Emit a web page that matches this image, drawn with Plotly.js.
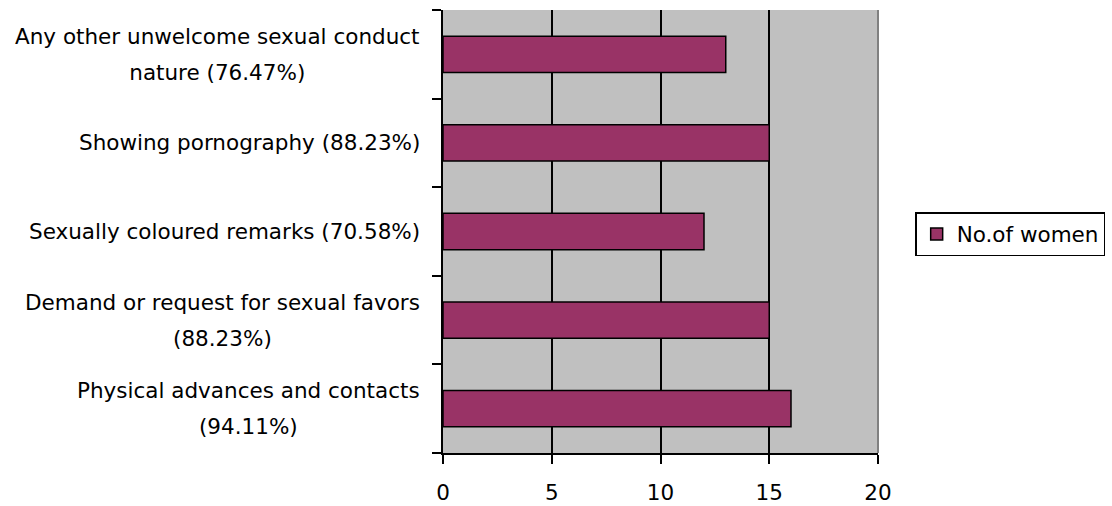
<!DOCTYPE html>
<html>
<head>
<meta charset="utf-8">
<script src="https://cdn.plot.ly/plotly-3.0.1.min.js"></script>
<style>html,body{margin:0;padding:0;background:#fff;}#chart{width:1112px;height:506px;}</style>
</head>
<body>
<div id="chart"></div>
<script>
// Categories listed bottom-to-top, each label split into its lines
const categories = [
  "Physical advances and contacts (94.11%)",
  "Demand or request for sexual favors (88.23%)",
  "Sexually coloured remarks (70.58%)",
  "Showing pornography (88.23%)",
  "Any other unwelcome sexual conduct nature (76.47%)"
];
const labelLines = [
  ["Physical advances and contacts", "(94.11%)"],
  ["Demand or request for sexual favors", "(88.23%)"],
  ["Sexually coloured remarks (70.58%)"],
  ["Showing pornography (88.23%)"],
  ["Any other unwelcome sexual conduct", "nature (76.47%)"]
];
const womenCounts = [16, 15, 12, 15, 13];
const seriesName = "No.of women";
const xTicks = [0, 5, 10, 15, 20];

const FONT = "DejaVu Sans, Verdana, sans-serif";
const FS = 21.5;

const trace = {
  type: "bar",
  orientation: "h",
  y: categories,
  x: womenCounts,
  name: seriesName,
  marker: { color: "#993366", line: { color: "#000", width: 1.5 } },
  hoverinfo: "x+y"
};

const annotations = categories.map((c, i) => ({
  xref: "paper", yref: "y",
  x: 0, y: c,
  xanchor: "right", yanchor: "middle",
  xshift: -21,
  align: "center",
  showarrow: false,
  font: { family: FONT, size: 27.7, color: "#000" },
  text: labelLines[i].map(l => '<span style="font-size:' + FS + 'px">' + l + '</span>').join("<br>")
}));

const layout = {
  width: 1112, height: 506,
  margin: { l: 443, r: 234, t: 10, b: 53, pad: 0, autoexpand: false },
  paper_bgcolor: "#ffffff",
  plot_bgcolor: "#C0C0C0",
  font: { family: FONT, size: FS, color: "#000" },
  bargap: 0.59,
  showlegend: true,
  legend: {
    xref: "container", yref: "container",
    x: 0.823, y: 0.581, xanchor: "left", yanchor: "top",
    bgcolor: "#fff", bordercolor: "#000", borderwidth: 1.5,
    font: { family: FONT, size: FS, color: "#000" }
  },
  xaxis: {
    range: [0, 20],
    tickvals: xTicks,
    ticktext: xTicks.map(String),
    showgrid: true, gridcolor: "#000", gridwidth: 2,
    zeroline: false,
    showline: true, linecolor: "#000", linewidth: 2,
    ticks: "outside", ticklen: 9, tickwidth: 2, tickcolor: "#000",
    ticklabelstandoff: 10,
    tickfont: { family: FONT, size: FS, color: "#000" },
    automargin: false,
    fixedrange: true
  },
  yaxis: {
    type: "category",
    categoryorder: "array", categoryarray: categories,
    showticklabels: false,
    showgrid: false, zeroline: false,
    showline: true, linecolor: "#000", linewidth: 2,
    ticks: "outside", ticklen: 9, tickwidth: 2, tickcolor: "#000",
    tickson: "boundaries",
    automargin: false,
    fixedrange: true
  },
  shapes: [
    { type: "line", xref: "paper", yref: "paper", x0: 1, x1: 1, y0: 0, y1: 1,
      line: { color: "#808080", width: 2 }, layer: "above" }
  ],
  annotations: annotations
};

Plotly.newPlot("chart", [trace], layout, { displayModeBar: false, staticPlot: true });
</script>
</body>
</html>
